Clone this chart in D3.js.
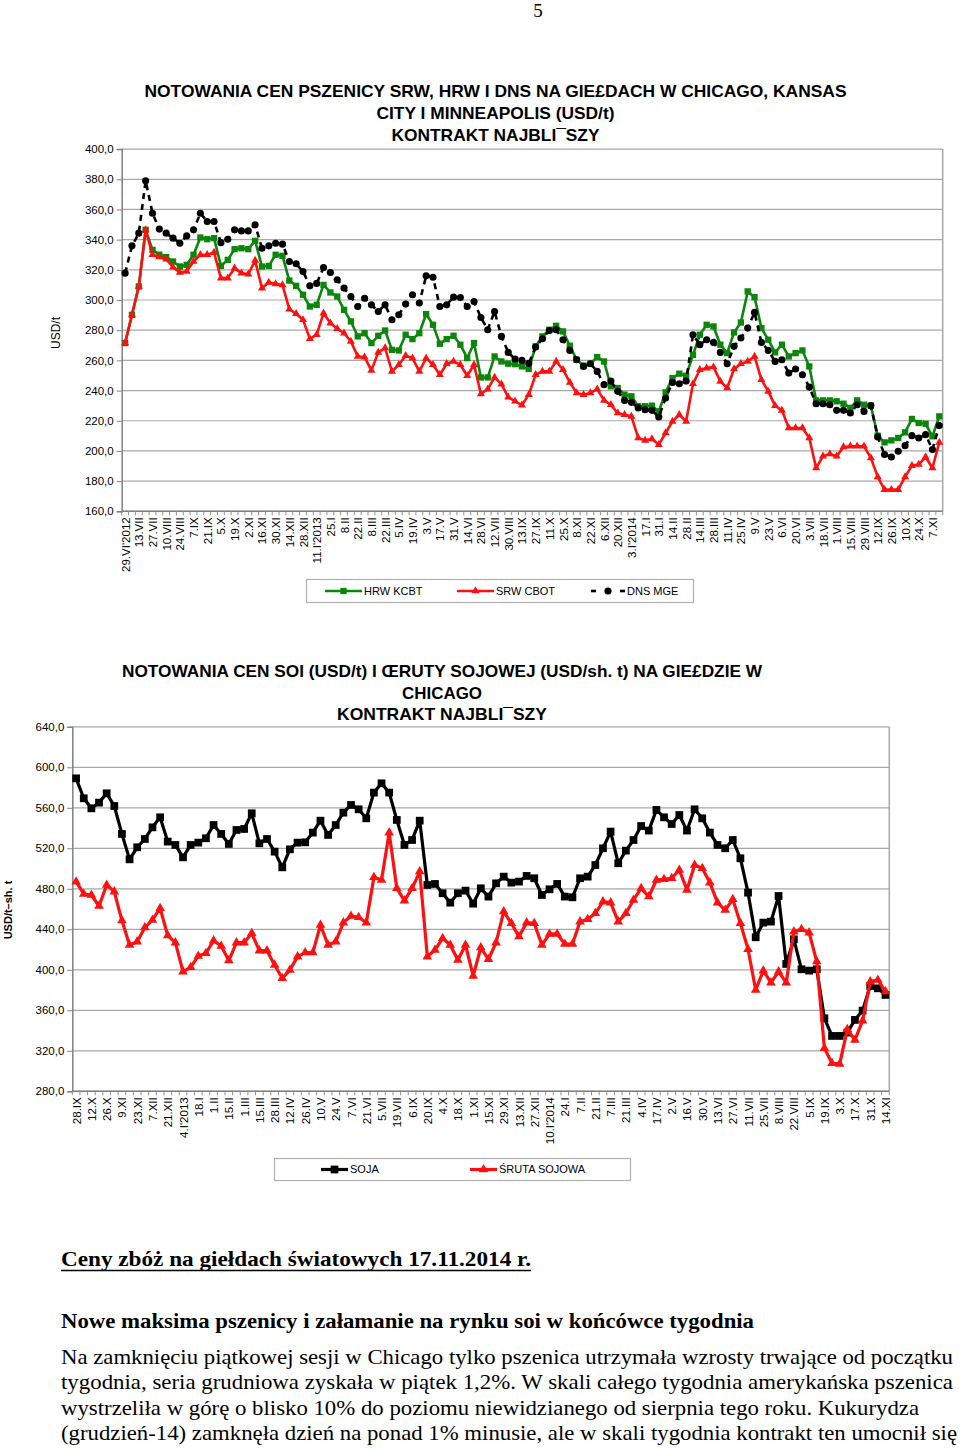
<!DOCTYPE html>
<html><head><meta charset="utf-8">
<script src="https://cdn.jsdelivr.net/npm/d3@7"></script>
<style>body{margin:0;background:#fff}svg{display:block}</style>
</head><body>
<svg id="c" width="960" height="1449"></svg>
<script>
// ---------- DATA: wheat chart ----------
const wheatTickLabels = ["29.VI'2012","13.VII","27.VII","10.VIII","24.VIII","7.IX","21.IX","5.X","19.X","2.XI","16.XI","30.XI","14.XII","28.XII","11.I'2013","25.I","8.II","22.II","8.III","22.III","5.IV","19.IV","3.V","17.V","31.V","14.VI","28.VI","12.VII","30.VIII","13.IX","27.IX","11.X","25.X","8.XI","22.XI","6.XII","20.XII","3.I'2014","17.I","31.I","14.II","28.II","14.III","28.III","11.IV","25.IV","9.V","23.V","6.VI","20.VI","3.VII","18.VII","1.VIII","15.VIII","29.VIII","12.IX","26.IX","10.X","24.X","7.XI"];
const hrwKcbt = [271.5,290.2,309,346.5,333.2,330,328.4,325.5,322.2,323.3,330,341.4,340.3,341,322.6,326.6,333.7,334.3,333.7,339.2,322.2,322.6,330,329.3,312.9,309.4,303.5,295.7,296.8,310,305,302.3,293.5,285.8,275.9,278,271.5,276.3,279.8,267,266.6,277,274.1,278,290.7,283.6,271,274.1,276.3,270.4,261.5,271.5,248.7,248.7,262.6,259.3,257.8,257.5,256,254.3,269.3,275.9,280.3,282.9,279.2,269.7,260.4,256.5,257.8,262.2,259.3,242.8,241.7,237.3,236.2,229.6,229.6,230,226.2,238.8,248.3,251.2,249.8,263.7,277,283.6,282.5,270.4,264.8,278.5,285.1,305.7,301.9,281.4,273.7,265.3,270.4,262.6,264.8,266.6,256,233.5,233.5,233.5,232.9,231.3,228.5,233.5,230.6,230,210.1,205.7,207,208.6,212.3,221.2,218.5,218,209.7,222.9];
const srwCbot = [271.5,290.2,309,346.5,330,328.5,327,321.8,318.2,319,325.5,330,330,331.5,314.5,314.5,321.1,317.8,317.1,326.2,307.9,311.6,310.7,310,294,290.9,286.9,274.3,277,291.3,284.7,281,278,272.6,262.6,262.2,253.4,265.3,268.2,252.7,257.1,263.1,261.5,252.7,261.5,257.1,250.5,257.8,259.3,257.1,249.8,257.1,237.7,241,248.7,244.3,235.7,232.9,230.4,237.3,250.5,252.7,252.7,259.3,253.8,245.4,238.4,237.3,238.4,241,233.5,230.6,225.1,224,222.9,208.6,207,207.9,204.2,211.9,219.6,224,219.6,244.5,253.8,254.9,255.6,246.1,241.7,254.3,257.8,259.3,262.6,247.2,239.5,230,226.9,215.2,215.2,215.2,208.6,188.7,196.5,198,196.5,202.6,203.1,203.1,203.1,195.4,182.8,174.4,174.4,174.4,182.8,190.3,191,196,188.7,205.7];
const dnsMge = [317.8,335.9,344.3,379,357.5,347,344.3,341,337.6,342.5,346.5,357.5,352,352,338,340.3,346.5,345.8,345.8,349.8,334.3,335.9,337.6,337,325.5,324,318.9,309.4,311,321.5,318.2,313.4,307.9,302.3,295.7,301.2,296.8,292.4,296.8,286.9,290.2,297.3,303.5,298,316,315.1,295.7,296.8,301.9,301.7,295.7,299,288.4,280.3,292.4,275.9,265.3,260.9,260,258,268.8,274.3,279.8,280.3,273.7,266.6,260.4,256,257.8,252.7,243.9,246.3,239.5,233.5,232.2,228.5,227.3,226.9,222.5,235.1,245.4,244.5,246.3,277,270.4,273.7,271.9,265.3,257.8,269.3,274.8,281.4,291.8,271.9,266.6,259.3,260.4,251.6,254.3,250.5,242.3,231.3,231.3,230.6,226.9,226.9,225.1,230.6,226.2,230,209.3,197.6,196,199.8,203.5,210.1,208.6,210.8,200.9,216.8];
const wheatYTicks = [160,180,200,220,240,260,280,300,320,340,360,380,400];

// ---------- DATA: soy chart ----------
const soyTickLabels = ["28.IX","12.X","26.X","9.XI","23.XI","7.XII","21.XII","4.I'2013","18.I","1.II","15.II","1.III","15.III","28.III","12.IV","26.IV","10.V","24.V","7.VI","21.VI","5.VII","19.VII","6.IX","20.IX","4.X","18.X","1.XI","15.XI","29.XI","13.XII","27.XII","10.I'2014","24.I","7.II","21.II","7.III","21.III","4.IV","17.IV","2.V","16.V","30.V","13.VI","27.VI","11.VII","25.VII","8.VIII","22.VIII","5.IX","19.IX","3.X","17.X","31.X","14.XI"];
const soja = [589.1,569.4,559.5,565.1,574.3,561.8,534.2,509.1,521,529.2,540.7,550.6,526.6,523.3,511.1,523.3,525.6,529.9,543,534.2,524.3,538.1,539.1,554.6,524.9,529.2,516.7,501.2,519,525.6,525.9,535.5,547.3,533.2,543,555.2,562.8,558.5,549.6,575,584.2,575,548,523.3,528.2,547.3,483.8,484.8,475.6,466.3,475.6,478.2,465.3,480.5,472.3,485.4,492,486.1,487.1,492.7,490.4,473.9,479.5,484.8,472.3,471.6,490.4,492,503.5,520,536.5,505.2,517.7,528.2,542,537.5,557.9,550.6,544,552.9,537.5,558.5,549.6,535.5,523.3,520,528.2,510.1,476.2,432.1,446.6,447.6,472.9,405.8,430.1,400.5,399.2,400.5,352.1,334.7,334.7,338,350.5,359.7,384,381.7,375.2];
const srutaSojowa = [487,474.9,473.9,463,483.8,477.2,448.6,424.5,427.8,441.7,449.2,460.8,433.8,426.8,398.2,402.5,413.7,416.3,428.8,423.5,409.1,426.8,426.8,436.1,418.9,418.9,404.8,391.6,399.9,413,417,417,444.3,424.5,427.8,446.6,453.2,451.9,446.6,491.4,488.7,535.5,480.5,468.3,480.5,497,413,419.6,431.1,424.5,409.7,424.5,393.9,422,410.4,426.8,457.5,445.9,432.8,446.6,445.9,424.5,435.4,435.4,425.5,425.5,447.6,449.9,455.8,467.3,466.3,447.6,455.8,469,480.5,472.3,488.7,489.4,490.4,498.6,478.9,503.5,500.3,486.1,466.3,459,469.6,445.9,420.3,380.1,399.2,387.3,398.2,387.3,437.7,440,436.7,408.1,322.5,307.7,307,341.2,330.7,349.8,388.3,390,378.5];
const soyYTicks = [280,320,360,400,440,480,520,560,600,640];

// ---------- TEXT ----------
const title1 = ["NOTOWANIA CEN PSZENICY SRW, HRW I DNS NA GIE£DACH W CHICAGO, KANSAS","CITY I MINNEAPOLIS (USD/t)","KONTRAKT NAJBLI¯SZY"];
const title2 = ["NOTOWANIA CEN SOI (USD/t) I ŒRUTY SOJOWEJ (USD/sh. t) NA GIE£DZIE W","CHICAGO","KONTRAKT NAJBLI¯SZY"];
const paragraph = [
 "Na zamknięciu piątkowej sesji w Chicago tylko pszenica utrzymała wzrosty trwające od początku",
 "tygodnia, seria grudniowa zyskała w piątek 1,2%. W skali całego tygodnia amerykańska pszenica",
 "wystrzeliła w górę o blisko 10% do poziomu niewidzianego od sierpnia tego roku. Kukurydza",
 "(grudzień-14) zamknęła dzień na ponad 1% minusie, ale w skali tygodnia kontrakt ten umocnił się"];

const svg = d3.select('#c');
const SANS = "'Liberation Sans', Arial, sans-serif";
const SERIF = "'Liberation Serif', 'Times New Roman', serif";
const fmt = v => d3.format('.1f')(v).replace('.', ',');

svg.append('text').attr('x',538).attr('y',17).attr('text-anchor','middle')
  .attr('font-family',SERIF).attr('font-size',19).text('5');

function drawChart(cfg){
  const n = cfg.series[0].values.length;
  const x = d3.scaleBand().domain(d3.range(n)).range([cfg.x0, cfg.x1]);
  const cx = i => x(i) + x.bandwidth()/2;
  const y = d3.scaleLinear().domain(cfg.domain).range([cfg.y1, cfg.y0]);
  const g = svg.append('g');

  cfg.title.forEach((t,k)=>{
    g.append('text').attr('x',cfg.titleX).attr('y',cfg.titleY[k]).attr('text-anchor','middle')
     .attr('font-family',SANS).attr('font-weight','bold').attr('font-size',17)
     .attr('textLength',cfg.titleW[k]).attr('lengthAdjust','spacingAndGlyphs').text(t);
  });

  g.selectAll('line.grid').data(cfg.ticks).join('line').attr('class','grid')
    .attr('x1',cfg.x0).attr('x2',cfg.x1).attr('y1',d=>y(d)).attr('y2',d=>y(d))
    .attr('stroke','#a8a8a8').attr('stroke-width',1.2);
  g.append('line').attr('x1',cfg.x1).attr('x2',cfg.x1).attr('y1',cfg.y0).attr('y2',cfg.y1)
    .attr('stroke','#a8a8a8').attr('stroke-width',1.5);

  const ya = g.append('g').attr('transform',`translate(${cfg.x0},0)`)
    .call(d3.axisLeft(y).tickValues(cfg.ticks).tickFormat(fmt).tickSize(5).tickPadding(3));
  ya.select('.domain').attr('stroke','#808080').attr('stroke-width',1.5);
  ya.selectAll('.tick line').attr('stroke','#808080');
  ya.selectAll('.tick text').attr('font-family',SANS).attr('font-size',11.5).attr('fill','#000');

  g.append('line').attr('x1',cfg.x0).attr('x2',cfg.x1).attr('y1',cfg.y1).attr('y2',cfg.y1)
    .attr('stroke','#808080').attr('stroke-width',1.5);
  g.selectAll('line.xt').data(d3.range(n+1)).join('line').attr('class','xt')
    .attr('x1',i=>cfg.x0+i*x.bandwidth()).attr('x2',i=>cfg.x0+i*x.bandwidth())
    .attr('y1',cfg.y1).attr('y2',cfg.y1+4).attr('stroke','#909090');
  const labelIdx = d3.range(0,n,2);
  g.selectAll('text.xl').data(labelIdx).join('text').attr('class','xl')
    .attr('transform',i=>`translate(${cx(i)+0.5},${cfg.y1+6}) rotate(-90)`)
    .attr('text-anchor','end').attr('dy','0.35em')
    .attr('font-family',SANS).attr('font-size',11.5).text(i=>cfg.labels[i/2]);

  g.append('text').attr('transform',`translate(${cfg.ylabX},${cfg.ylabY}) rotate(-90)`)
    .attr('text-anchor','middle').attr('dy','0.35em').attr('font-family',SANS)
    .attr('font-size',cfg.ylabSize).attr('font-weight',cfg.ylabWeight).text(cfg.ylab);

  cfg.series.forEach(s=>{
    const line = d3.line().x((d,i)=>cx(i)).y(d=>y(d));
    g.append('path').datum(s.values).attr('d',line).attr('fill','none')
      .attr('stroke',s.color).attr('stroke-width',s.width)
      .attr('stroke-dasharray',s.dash||null).attr('stroke-linejoin','round');
    const sym = d3.symbol().type(s.symbol).size(s.size);
    g.selectAll(null).data(s.values).join('path')
      .attr('transform',(d,i)=>`translate(${cx(i)},${y(d)})`).attr('d',sym).attr('fill',s.color);
  });

  const L = cfg.legend;
  g.append('rect').attr('x',L.x).attr('y',L.y).attr('width',L.w).attr('height',L.h)
    .attr('fill','#fff').attr('stroke','#b0b0b0').attr('stroke-width',1.2);
  const cy = L.y + L.h/2;
  cfg.series.forEach((s,k)=>{
    const it = L.items[k];
    if(s.dash){
      [[it.x1, it.x1+5],[it.x2-5, it.x2]].forEach(p=>
        g.append('line').attr('x1',p[0]).attr('x2',p[1]).attr('y1',cy).attr('y2',cy)
          .attr('stroke',s.color).attr('stroke-width',s.width));
    } else {
      g.append('line').attr('x1',it.x1).attr('x2',it.x2).attr('y1',cy).attr('y2',cy)
        .attr('stroke',s.color).attr('stroke-width',s.width);
    }
    g.append('path').attr('transform',`translate(${(it.x1+it.x2)/2},${cy})`)
      .attr('d',d3.symbol().type(s.symbol).size(s.size)()).attr('fill',s.color);
    g.append('text').attr('x',it.x2+2).attr('y',cy).attr('dy','0.35em')
      .attr('font-family',SANS).attr('font-size',11).text(s.name);
  });
}

drawChart({
  x0:121.7, x1:942.7, y0:149.1, y1:511.3, domain:[160,400], ticks:wheatYTicks, labels:wheatTickLabels,
  title:title1, titleX:495.5, titleY:[97.3,119.3,140.7], titleW:[702,238,208],
  ylab:'USD/t', ylabX:56, ylabY:333, ylabSize:12, ylabWeight:'normal',
  series:[
    {name:'HRW KCBT', values:hrwKcbt, color:'#0a860a', width:2.6, symbol:d3.symbolSquare, size:40},
    {name:'SRW CBOT', values:srwCbot, color:'#ff1010', width:2.6, symbol:d3.symbolTriangle, size:28},
    {name:'DNS MGE', values:dnsMge, color:'#000', width:2.6, symbol:d3.symbolCircle, size:40, dash:'6,5'}
  ],
  legend:{x:306.5, y:579.5, w:387, h:23, items:[{x1:325,x2:362},{x1:457,x2:494},{x1:591,x2:625}]}
});

drawChart({
  x0:72.3, x1:889.3, y0:726.8, y1:1091.3, domain:[280,640], ticks:soyYTicks, labels:soyTickLabels,
  title:title2, titleX:442, titleY:[677.3,698.8,720.3], titleW:[640,80,210],
  ylab:'USD/t–sh. t', ylabX:8, ylabY:910, ylabSize:11, ylabWeight:'bold',
  series:[
    {name:'SOJA', values:soja, color:'#000', width:3.2, symbol:d3.symbolSquare, size:60},
    {name:'ŚRUTA SOJOWA', values:srutaSojowa, color:'#ff1010', width:3.2, symbol:d3.symbolTriangle, size:40}
  ],
  legend:{x:274.5, y:1158.5, w:356, h:22, items:[{x1:321,x2:348},{x1:470,x2:497}]}
});

// ---------- text block ----------
svg.append('text').attr('x',61).attr('y',1266).attr('font-family',SERIF)
  .attr('font-weight','bold').attr('font-size',21).attr('textLength',470).attr('lengthAdjust','spacingAndGlyphs')
  .text('Ceny zbóż na giełdach światowych  17.11.2014 r.');
svg.append('line').attr('x1',61).attr('x2',531).attr('y1',1270.5).attr('y2',1270.5).attr('stroke','#000').attr('stroke-width',1.3);
svg.append('text').attr('x',61).attr('y',1327.5).attr('font-family',SERIF)
  .attr('font-weight','bold').attr('font-size',21).attr('textLength',693).attr('lengthAdjust','spacingAndGlyphs')
  .text('Nowe maksima pszenicy i załamanie na rynku soi w końcówce tygodnia');
const paraW = [892,892,858,896];
svg.selectAll('text.para').data(paragraph).join('text').attr('class','para')
  .attr('x',61).attr('y',(d,i)=>1363.5+i*25.6).attr('font-family',SERIF).attr('font-size',21)
  .attr('textLength',(d,i)=>paraW[i]).attr('lengthAdjust','spacingAndGlyphs').text(d=>d);
</script>
</body></html>
